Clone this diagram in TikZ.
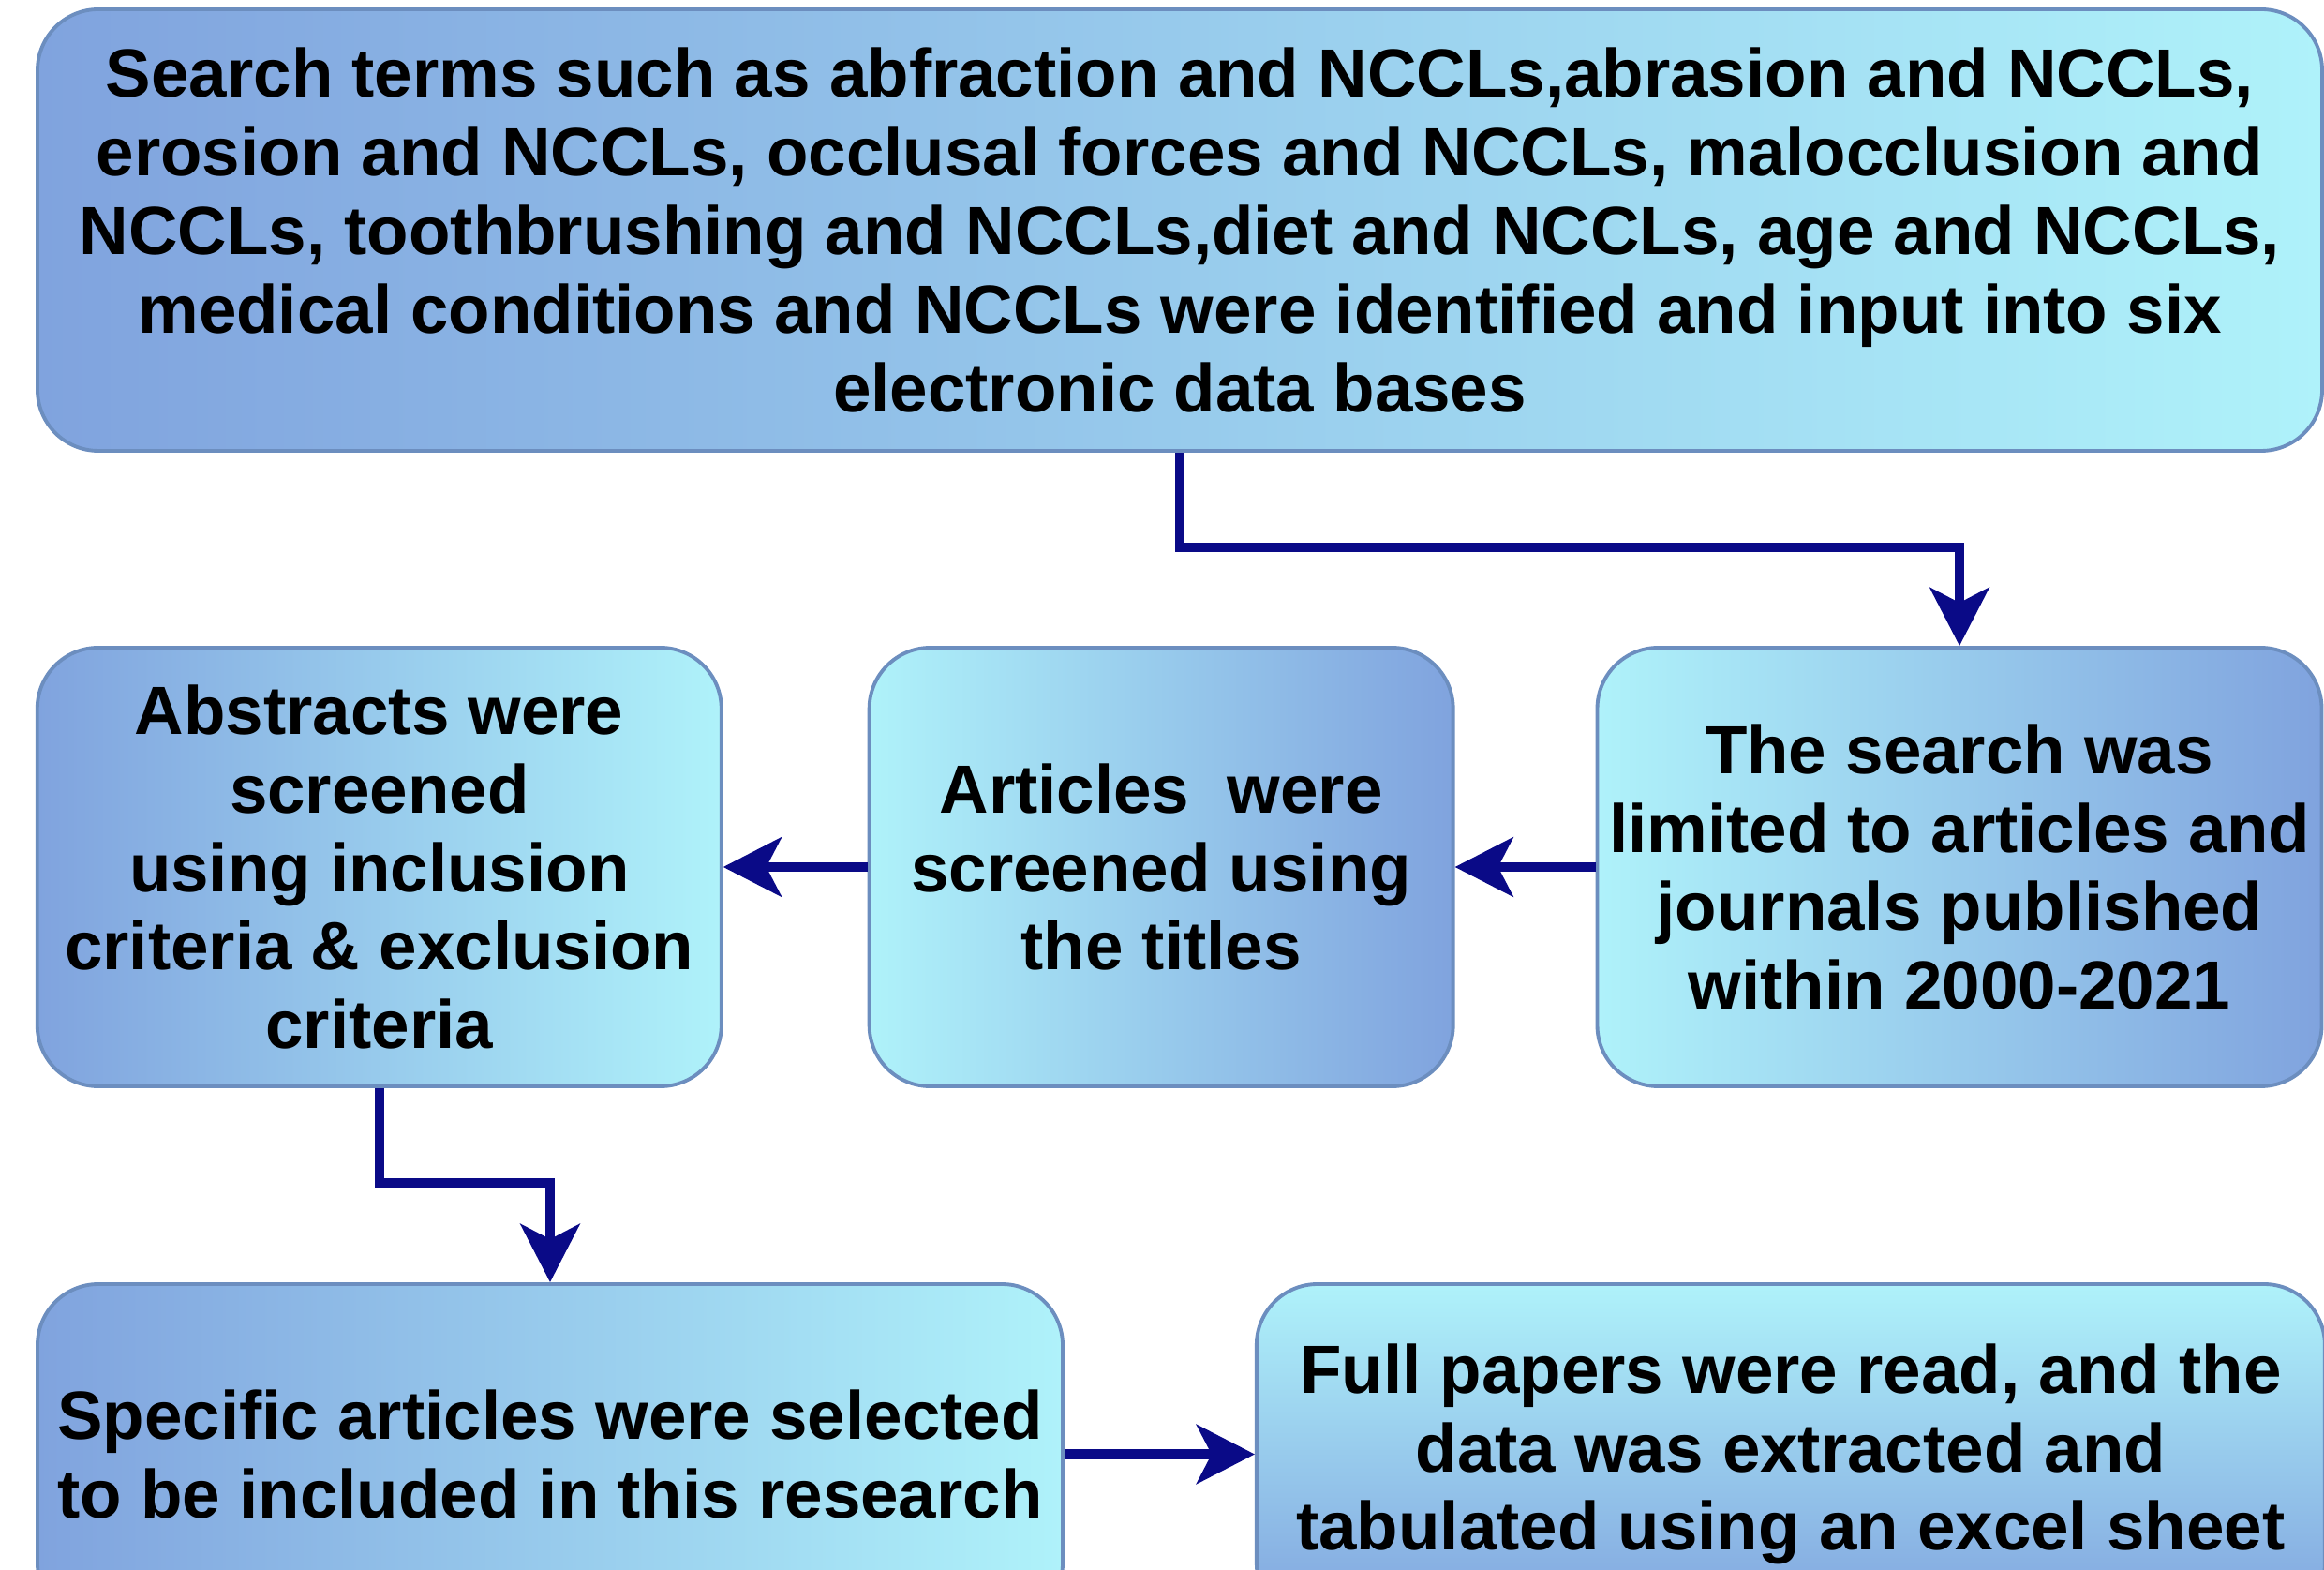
\documentclass[tikz,border=0pt]{standalone}
\usepackage{fontspec}
\setmainfont{Liberation Sans}
\usetikzlibrary{positioning,arrows.meta}

\definecolor{boxdark}{RGB}{128,163,222}
\definecolor{boxlight}{RGB}{175,242,250}
\definecolor{boxline}{RGB}{108,142,191}
\definecolor{arrownavy}{RGB}{10,10,135}

\tikzset{
  stepbox/.style={draw=boxline, line width=1.1pt, rounded corners=0.65cm,
    align=center, inner sep=0pt, minimum height=4.68cm,
    font=\fontsize{20.7}{23.85}\selectfont\bfseries},
  flow/.style={draw=arrownavy, line width=2.9pt,
    -{Stealth[length=0.62cm, width=0.63cm, inset=0.16cm]}},
}

\begin{document}
\begin{tikzpicture}
  \clip (0,0) rectangle (24.8,16.74);

  \node[stepbox, left color=boxdark, right color=boxlight,
    minimum width=24.38cm, minimum height=4.71cm] (terms) at (12.59,14.285)
    {Search terms such as abfraction and NCCLs,abrasion and NCCLs,\\
     erosion and NCCLs, occlusal forces and NCCLs, malocclusion and\\
     NCCLs, toothbrushing and NCCLs,diet and NCCLs, age and NCCLs,\\
     medical conditions and NCCLs were identified and input into six\\
     electronic data bases};

  \node[stepbox, left color=boxlight, right color=boxdark,
    minimum width=7.73cm] (limit) at (20.91,7.49)
    {The search was\\ limited to articles and\\ journals published\\ within 2000-2021};
  \node[stepbox, left color=boxlight, right color=boxdark,
    minimum width=6.23cm, left=1.50cm of limit] (titles)
    {Articles\ \ were\\ screened using\\ the titles};
  \node[stepbox, left color=boxdark, right color=boxlight,
    minimum width=7.30cm, left=1.54cm of titles] (abstracts)
    {Abstracts were\\ screened\\ using inclusion\\ criteria \& exclusion\\ criteria};

  \node[stepbox, left color=boxdark, right color=boxlight,
    minimum width=10.94cm, minimum height=3.63cm] (select) at (5.87,1.225)
    {Specific articles were selected\\ to be included in this research};
  \node[stepbox, top color=boxlight, bottom color=boxdark,
    minimum width=11.40cm, minimum height=3.63cm, right=2.03cm of select] (extract)
    {Full papers were read, and the\\ data was extracted and\\ tabulated using an excel sheet};

  \draw[flow] (terms.south) -- ++(0,-1.01) -| (limit.north);
  \draw[flow] (limit) -- (titles);
  \draw[flow] (titles) -- (abstracts);
  \draw[flow] (abstracts.south) -- ++(0,-1.01) -| (select.north);
  \draw[flow] (select) -- (extract);
\end{tikzpicture}
\end{document}
